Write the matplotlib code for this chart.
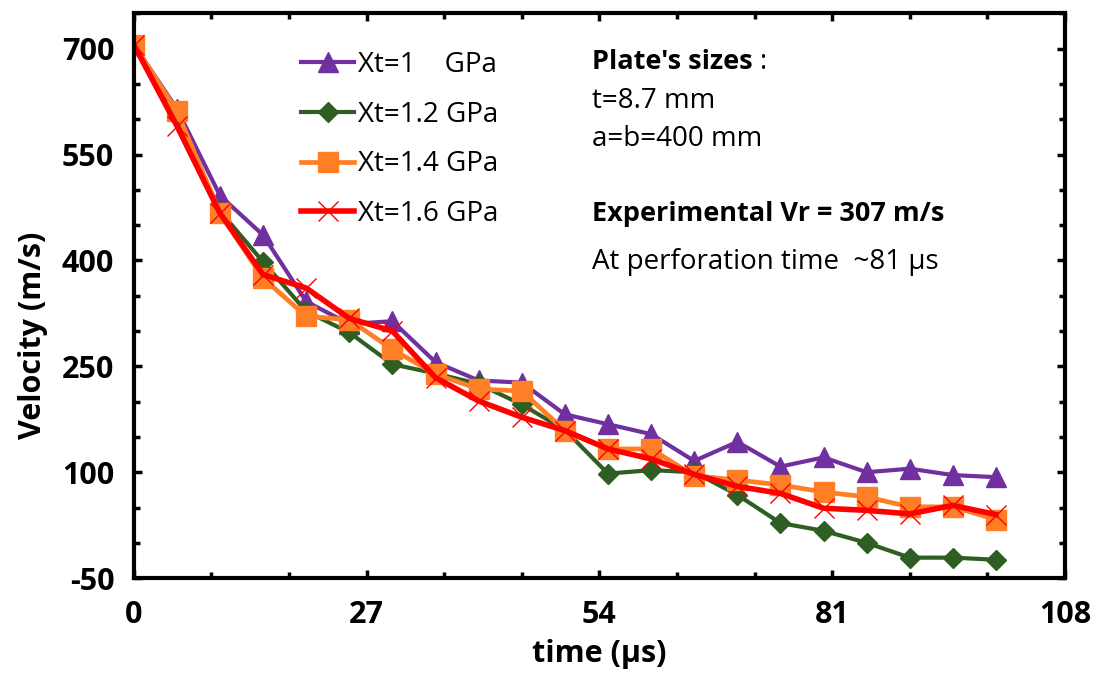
import numpy as np
import matplotlib
matplotlib.use("Agg")
import matplotlib.pyplot as plt
from matplotlib.ticker import MultipleLocator

plt.rcParams['font.family'] = ['Open Sans', 'DejaVu Sans']
plt.rcParams['axes.unicode_minus'] = False

# time (us)
time_us = [0, 5, 10, 15, 20, 25, 30, 35, 40, 45, 50, 55, 60, 65, 70, 75, 80, 85, 90, 95, 100]

# velocity (m/s) per tensile strength
v_xt10 = [706, 615, 492, 436, 342, 310, 314, 256, 230, 227, 182, 168, 154, 116, 143, 108, 121, 100, 105, 96, 93]
v_xt12 = [706, 605, 470, 398, 328, 298, 253, 240, 225, 196, 160, 98, 103, 100, 68, 28, 17, 0, -21, -21, -24]
v_xt14 = [706, 612, 467, 375, 321, 316, 274, 239, 218, 215, 159, 133, 133, 95, 89, 82, 72, 65, 51, 51, 33]
v_xt16 = [706, 591, 467, 380, 361, 318, 300, 234, 201, 178, 159, 133, 119, 97, 80, 70, 49, 46, 41, 53, 40]

series = [
    ("Xt=1    GPa", v_xt10, "#7030A0", "^", 14.5, 3.0),
    ("Xt=1.2 GPa", v_xt12, "#2E5E22", "D", 10.5, 3.0),
    ("Xt=1.4 GPa", v_xt14, "#FF7F27", "s", 14, 3.4),
    ("Xt=1.6 GPa", v_xt16, "#FF0000", "x", 15, 4.0),
]

fig = plt.figure(figsize=(10.97, 6.73), dpi=100)
ax = fig.add_axes([0.1219, 0.141, 0.8489, 0.839])

for label, vals, col, mk, ms, lw in series:
    if mk == "x":
        ax.plot(time_us, vals, color=col, lw=lw, marker=mk, ms=ms, mew=1.0, label=label)
    else:
        ax.plot(time_us, vals, color=col, lw=lw, marker=mk, ms=ms, mec=col, label=label)

ax.set_xlim(0, 108)
ax.set_ylim(-50, 750)
ax.xaxis.set_major_locator(MultipleLocator(27))
ax.xaxis.set_minor_locator(MultipleLocator(9))
ax.set_yticks([-50, 100, 250, 400, 550, 700])
ax.yaxis.set_minor_locator(MultipleLocator(50))
ax.tick_params(which='both', direction='in', top=True, right=True, width=2.5, color='black')
ax.tick_params(which='major', length=6)
ax.tick_params(axis='x', which='major', pad=16)
ax.tick_params(axis='y', which='major', pad=14)
ax.tick_params(which='minor', length=4.5)
for lbl in ax.get_xticklabels() + ax.get_yticklabels():
    lbl.set_fontweight('bold')
    lbl.set_fontsize(22)
for sp in ax.spines.values():
    sp.set_linewidth(3)

ax.set_xlabel("time (µs)", fontsize=22, fontweight='bold', labelpad=6)
ax.set_ylabel("Velocity (m/s)", fontsize=22, fontweight='bold', labelpad=10)
# label sits a bit below the axis centre in the original
ax.yaxis.label.set_y(0.43)

ax.legend(frameon=False, loc='upper left', bbox_to_anchor=(0.159, 0.968), fontsize=20,
          handlelength=1.9, handletextpad=0.15, labelspacing=0.78, borderaxespad=0.3)

# annotation block
tx = 592 / 1097
t1 = fig.text(tx, 1 - 62 / 673, "Plate's sizes", fontsize=19.5, fontweight='bold', va='center')
ax.annotate(" :", xy=(1, 0.5), xycoords=t1, fontsize=19.5, va='center')
fig.text(tx, 1 - 101 / 673, "t=8.7 mm", fontsize=20, va='center')
fig.text(tx, 1 - 139 / 673, "a=b=400 mm", fontsize=20, va='center')
fig.text(tx, 1 - 214 / 673, "Experimental Vr = 307 m/s", fontsize=19.5, fontweight='bold', va='center')
fig.text(tx, 1 - 262 / 673, "At perforation time  ~81 µs", fontsize=20, va='center')

fig.savefig("out.png", dpi=100)
